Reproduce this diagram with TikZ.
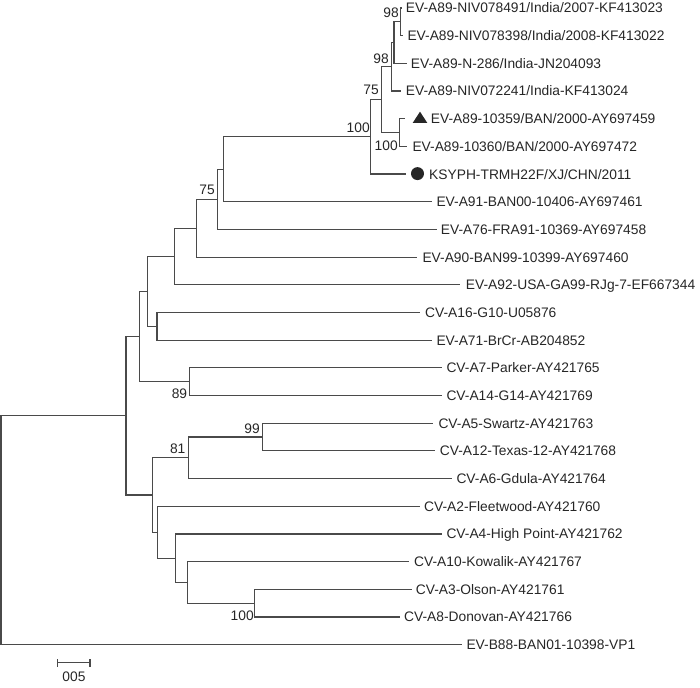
\documentclass[tikz,border=0pt]{standalone}
\usepackage{fontspec}
\setmainfont{Liberation Sans}
\definecolor{ln}{HTML}{4A4A4A}
\definecolor{tx}{HTML}{262626}
\begin{document}
\begin{tikzpicture}[x=1pt,y=-1pt,
  branch/.style={draw=ln, line width=1.2pt},
  leaf/.style={anchor=west, inner sep=0pt, text height=9.9pt, text depth=0pt, font=\fontsize{13.8}{16}\selectfont, text=tx},
  boot/.style={inner sep=0pt, text height=9.9pt, text depth=0pt, font=\fontsize{13.8}{16}\selectfont, text=tx}]
\useasboundingbox (0,0) rectangle (700,687);
% tips
\coordinate (t1) at (401.7,8);
\coordinate (t2) at (403.3,35.68);
\coordinate (t3) at (406.5,63.36);
\coordinate (t4) at (401,91.04);
\coordinate (t5) at (405,118.72);
\coordinate (t6) at (407,146.4);
\coordinate (t7) at (406,174.08);
\coordinate (t8) at (431.7,201.76);
\coordinate (t9) at (436.5,229.44);
\coordinate (t10) at (416.7,257.12);
\coordinate (t11) at (460,284.8);
\coordinate (t12) at (420,312.48);
\coordinate (t13) at (431.7,340.16);
\coordinate (t14) at (441.7,367.84);
\coordinate (t15) at (441.7,395.52);
\coordinate (t16) at (433.3,423.2);
\coordinate (t17) at (435,450.88);
\coordinate (t18) at (451.7,478.56);
\coordinate (t19) at (420,506.24);
\coordinate (t20) at (441.7,533.92);
\coordinate (t21) at (409.3,561.6);
\coordinate (t22) at (411.7,589.28);
\coordinate (t23) at (400,616.96);
\coordinate (t24) at (461.7,644.64);
% internal nodes
\coordinate (n98a) at (400.7,21.84);
\coordinate (nZ) at (394,42.6);
\coordinate (nY) at (391.7,66.82);
\coordinate (n100b) at (399.3,132.56);
\coordinate (nX) at (381.7,99.69);
\coordinate (nH100) at (370.7,136.88);
\coordinate (nH) at (223.3,169.32);
\coordinate (nG) at (217.3,199.38);
\coordinate (nF) at (196.7,228.25);
\coordinate (nD) at (174.3,256.5);
\coordinate (nE) at (157,326.32);
\coordinate (nC) at (147.7,291.4);
\coordinate (n89) at (189.3,381.68);
\coordinate (nB) at (139.3,336.54);
\coordinate (n99) at (262.3,437.04);
\coordinate (n81) at (188.3,457.8);
\coordinate (n100c) at (254.3,603.12);
\coordinate (nO) at (187.3,582.36);
\coordinate (nN) at (175.3,558.14);
\coordinate (nM) at (157.3,532.19);
\coordinate (nL) at (152.7,495);
\coordinate (nA) at (126,415.77);
\coordinate (root) at (1,530.2);
% branches
\draw[branch] (n98a) |- (t1) (n98a) |- (t2);
\draw[branch] (nZ) |- (n98a) (nZ) |- (t3);
\draw[branch] (nY) |- (nZ) (nY) |- (t4);
\draw[branch] (n100b) |- (t5) (n100b) |- (t6);
\draw[branch] (nX) |- (nY) (nX) |- (n100b);
\draw[branch] (nH100) |- (nX) (nH100) |- (t7);
\draw[branch] (nH) |- (nH100) (nH) |- (t8);
\draw[branch] (nG) |- (nH) (nG) |- (t9);
\draw[branch] (nF) |- (nG) (nF) |- (t10);
\draw[branch] (nD) |- (nF) (nD) |- (t11);
\draw[branch] (nE) |- (t12) (nE) |- (t13);
\draw[branch] (nC) |- (nD) (nC) |- (nE);
\draw[branch] (n89) |- (t14) (n89) |- (t15);
\draw[branch] (nB) |- (nC) (nB) |- (n89);
\draw[branch] (n99) |- (t16) (n99) |- (t17);
\draw[branch] (n81) |- (n99) (n81) |- (t18);
\draw[branch] (n100c) |- (t22) (n100c) |- (t23);
\draw[branch] (nO) |- (t21) (nO) |- (n100c);
\draw[branch] (nN) |- (t20) (nN) |- (nO);
\draw[branch] (nM) |- (t19) (nM) |- (nN);
\draw[branch] (nL) |- (n81) (nL) |- (nM);
\draw[branch] (nA) |- (nB) (nA) |- (nL);
\draw[branch] (root) |- (nA) (root) |- (t24);
% markers
\fill[tx] (412.7,122.9) -- (427.3,122.9) -- (420,111.7) -- cycle;
\fill[tx] (417.5,173.6) circle (6.5);
% leaf labels
\node[leaf] (l1) at (405.7,8) {EV-A89-NIV078491/India/2007-KF413023};
\node[leaf] (l2) at (407.3,35.68) {EV-A89-NIV078398/India/2008-KF413022};
\node[leaf] (l3) at (410.7,63.36) {EV-A89-N-286/India-JN204093};
\node[leaf] (l4) at (405.7,91.04) {EV-A89-NIV072241/India-KF413024};
\node[leaf] (l5) at (430.7,118.72) {EV-A89-10359/BAN/2000-AY697459};
\node[leaf] (l6) at (412.3,146.4) {EV-A89-10360/BAN/2000-AY697472};
\node[leaf] (l7) at (429,174.08) {KSYPH-TRMH22F/XJ/CHN/2011};
\node[leaf] (l8) at (436.3,201.76) {EV-A91-BAN00-10406-AY697461};
\node[leaf] (l9) at (440.7,229.44) {EV-A76-FRA91-10369-AY697458};
\node[leaf] (l10) at (422.3,257.12) {EV-A90-BAN99-10399-AY697460};
\node[leaf] (l11) at (465.7,284.8) {EV-A92-USA-GA99-RJg-7-EF667344};
\node[leaf] (l12) at (425,312.48) {CV-A16-G10-U05876};
\node[leaf] (l13) at (436.3,340.16) {EV-A71-BrCr-AB204852};
\node[leaf] (l14) at (446.3,367.84) {CV-A7-Parker-AY421765};
\node[leaf] (l15) at (446.3,395.52) {CV-A14-G14-AY421769};
\node[leaf] (l16) at (438.3,423.2) {CV-A5-Swartz-AY421763};
\node[leaf] (l17) at (439.7,450.88) {CV-A12-Texas-12-AY421768};
\node[leaf] (l18) at (456.3,478.56) {CV-A6-Gdula-AY421764};
\node[leaf] (l19) at (424,506.24) {CV-A2-Fleetwood-AY421760};
\node[leaf] (l20) at (446.3,533.92) {CV-A4-High Point-AY421762};
\node[leaf] (l21) at (414,561.6) {CV-A10-Kowalik-AY421767};
\node[leaf] (l22) at (415.7,589.28) {CV-A3-Olson-AY421761};
\node[leaf] (l23) at (404,616.96) {CV-A8-Donovan-AY421766};
\node[leaf] (l24) at (466.3,644.64) {EV-B88-BAN01-10398-VP1};
% bootstrap values
\node[boot, anchor=south east] (b98a) at (398.9,17.3) {98};
\node[boot, anchor=south east] (b98b) at (389,63.3) {98};
\node[boot, anchor=south east] (b75a) at (378.9,95) {75};
\node[boot, anchor=south east] (b100a) at (369.9,132.7) {100};
\node[boot, anchor=north east] (b100b) at (397.9,140) {100};
\node[boot, anchor=south east] (b75b) at (214.9,195) {75};
\node[boot, anchor=north east] (b89) at (187.3,388.3) {89};
\node[boot, anchor=south east] (b99) at (259.9,433.3) {99};
\node[boot, anchor=south east] (b81) at (185.6,454) {81};
\node[boot, anchor=north east] (b100c) at (253.9,610) {100};
% scale bar
\coordinate (sbL) at (57.7,662.7);
\coordinate (sbR) at (90,662.7);
\draw[branch] (sbL) -- (sbR);
\draw[branch] ([yshift=-4.2pt]sbL) -- ([yshift=4.2pt]sbL);
\draw[branch] ([yshift=-4.2pt]sbR) -- ([yshift=4.2pt]sbR);
\node[boot, anchor=north] (sbt) at (74,671.7) {005};
\end{tikzpicture}
\end{document}
